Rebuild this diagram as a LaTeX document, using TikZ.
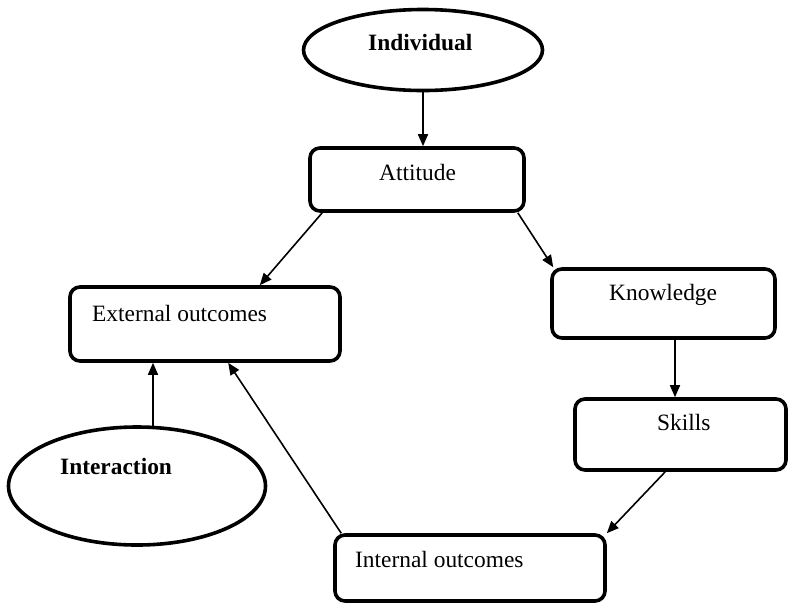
\documentclass[tikz,border=0pt]{standalone}
\usepackage{fontspec}
\setmainfont{Liberation Serif}
\usetikzlibrary{shapes.geometric,arrows.meta,calc}
\begin{document}
\begin{tikzpicture}[x=1pt,y=-1pt,
  boxnode/.style={draw,line width=3.6pt,rounded corners=10pt,rectangle,inner sep=0pt},
  ovalnode/.style={draw,line width=3.6pt,ellipse,inner sep=0pt},
  txt/.style={inner sep=0pt,anchor=base west,font=\fontsize{23.4}{28}\selectfont},
  btxt/.style={txt,font=\fontsize{23.4}{28}\selectfont\bfseries},
  arr/.style={line width=1.6pt,-{Triangle[length=12pt,width=10pt]}}]
\useasboundingbox (0,0) rectangle (789,606);
% shapes
\node[ovalnode,minimum width=239pt,minimum height=81pt] (ind) at (423,50) {};
\node[ovalnode,minimum width=257pt,minimum height=118pt] (inter) at (137,486) {};
\node[boxnode,minimum width=214pt,minimum height=63pt] (att) at (417,179.5) {};
\node[boxnode,minimum width=223pt,minimum height=69pt] (know) at (663.5,303.5) {};
\node[boxnode,minimum width=270pt,minimum height=74pt] (ext) at (205,324) {};
\node[boxnode,minimum width=211pt,minimum height=71pt] (skills) at (680.5,434.5) {};
\node[boxnode,minimum width=270pt,minimum height=66pt] (int) at (470,568) {};
% texts
\node[btxt] (indT) at (368,50.7) {Individual};
\node[btxt] (interT) at (60,474) {Interaction};
\node[txt] (attT) at (379,180.7) {Attitude};
\node[txt] (knowT) at (609,300.7) {Knowledge};
\node[txt] (extT) at (92,321) {External outcomes};
\node[txt] (skillsT) at (657,430.7) {Skills};
\node[txt] (intT) at (355,567.7) {Internal outcomes};
% connectors
\draw[arr] (ind.south) -- (ind.south |- att.north);
\draw[arr] ($(att.south west)+(14,0)$) -- ($(ext.north east)+(-82,0)$);
\draw[arr] ($(att.south east)+(-8,0)$) -- ($(know.north west)+(3,0)$);
\coordinate (k1) at ($(know.south)+(11.5,0)$);
\draw[arr] (k1) -- (k1 |- skills.north);
\draw[arr] ($(skills.south west)+(92,0)$) -- (int.north east);
\draw[arr] ($(int.north west)+(8,0)$) -- ($(ext.south west)+(160,0)$);
\coordinate (i1) at ($(inter.north)+(16,0.5)$);
\draw[arr] (i1) -- (i1 |- ext.south);
\end{tikzpicture}
\end{document}
